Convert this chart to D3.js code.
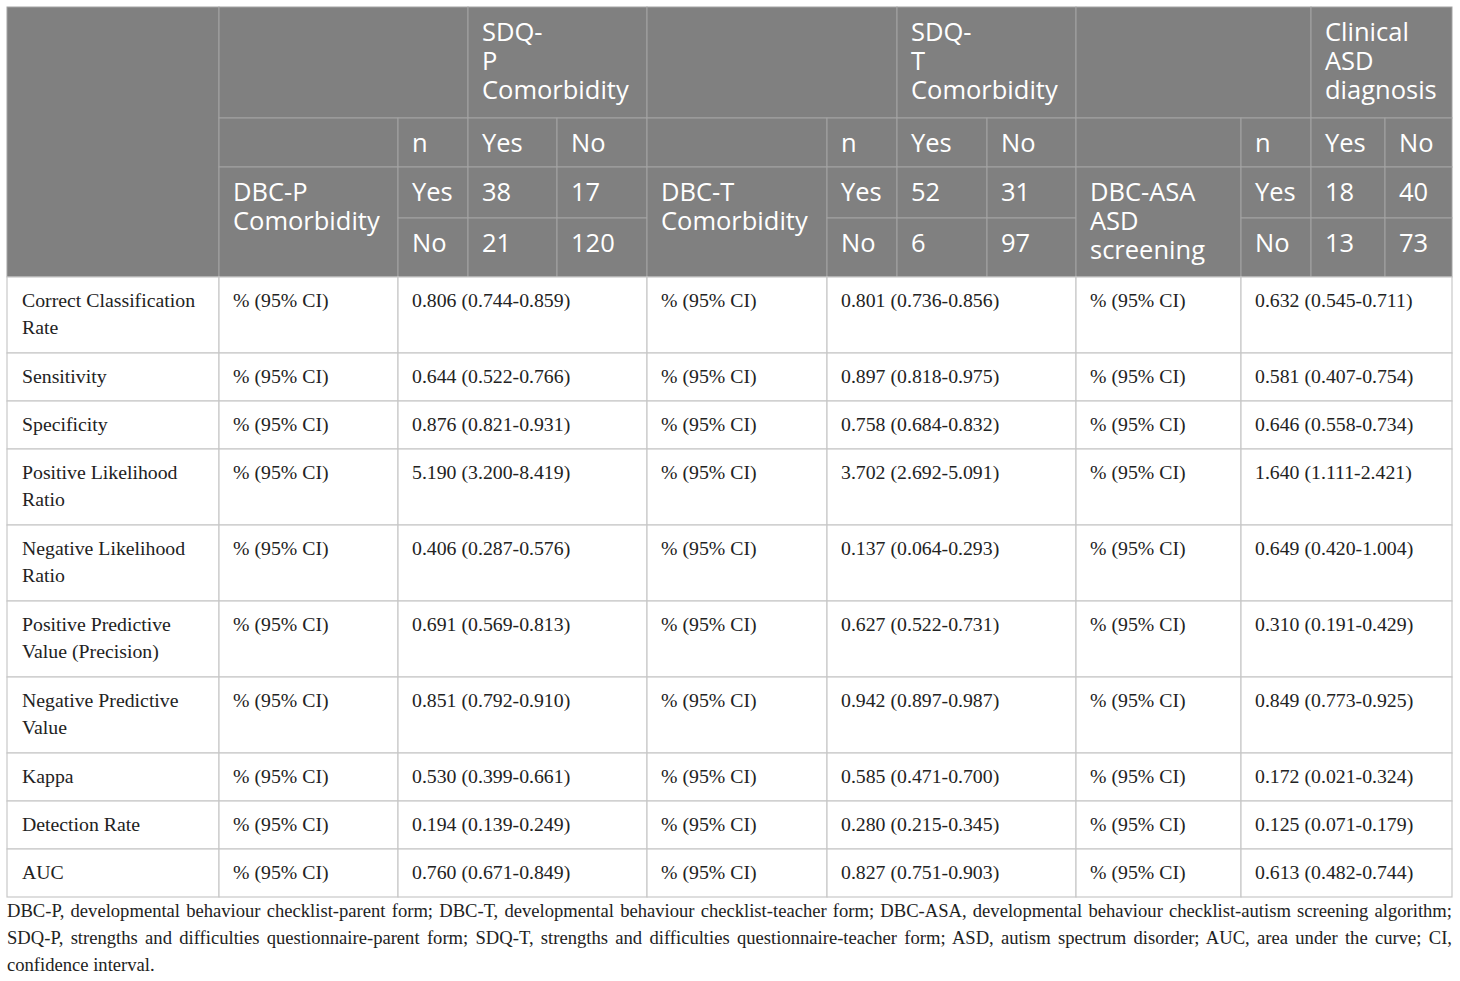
<!DOCTYPE html>
<html>
<head>
<meta charset="utf-8">
<script src="https://cdn.jsdelivr.net/npm/d3@7"></script>
<style>
  body { margin: 0; background: #fff; }
  svg { display: block; }
</style>
</head>
<body>
<div id="table"></div>
<script>
// ---- data ----
const metrics = [
  "Correct Classification Rate", "Sensitivity", "Specificity",
  "Positive Likelihood Ratio", "Negative Likelihood Ratio",
  "Positive Predictive Value (Precision)", "Negative Predictive Value",
  "Kappa", "Detection Rate", "AUC"
];
const unitLabel = "% (95% CI)";

// [estimate, lower, upper]
const dbcP = [
  [0.806, 0.744, 0.859], [0.644, 0.522, 0.766], [0.876, 0.821, 0.931],
  [5.190, 3.200, 8.419], [0.406, 0.287, 0.576], [0.691, 0.569, 0.813],
  [0.851, 0.792, 0.910], [0.530, 0.399, 0.661], [0.194, 0.139, 0.249],
  [0.760, 0.671, 0.849]
];
const dbcT = [
  [0.801, 0.736, 0.856], [0.897, 0.818, 0.975], [0.758, 0.684, 0.832],
  [3.702, 2.692, 5.091], [0.137, 0.064, 0.293], [0.627, 0.522, 0.731],
  [0.942, 0.897, 0.987], [0.585, 0.471, 0.700], [0.280, 0.215, 0.345],
  [0.827, 0.751, 0.903]
];
const dbcAsa = [
  [0.632, 0.545, 0.711], [0.581, 0.407, 0.754], [0.646, 0.558, 0.734],
  [1.640, 1.111, 2.421], [0.649, 0.420, 1.004], [0.310, 0.191, 0.429],
  [0.849, 0.773, 0.925], [0.172, 0.021, 0.324], [0.125, 0.071, 0.179],
  [0.613, 0.482, 0.744]
];

const refHeads  = [["SDQ-", "P", "Comorbidity"], ["SDQ-", "T", "Comorbidity"], ["Clinical", "ASD", "diagnosis"]];
const testHeads = [["DBC-P", "Comorbidity"], ["DBC-T", "Comorbidity"], ["DBC-ASA", "ASD", "screening"]];
const yesNo = ["Yes", "No"];
// [yes/yes, yes/no, no/yes, no/no]
const crossTab = [[38, 17, 21, 120], [52, 31, 6, 97], [18, 40, 13, 73]];

const footLines = [
  "DBC-P, developmental behaviour checklist-parent form; DBC-T, developmental behaviour checklist-teacher form; DBC-ASA, developmental behaviour checklist-autism screening algorithm;",
  "SDQ-P, strengths and difficulties questionnaire-parent form; SDQ-T, strengths and difficulties questionnaire-teacher form; ASD, autism spectrum disorder; AUC, area under the curve; CI,",
  "confidence interval."
];

// ---- layout ----
const W = 1460, H = 981;
const left = 7;
const colWidths = [212, 179, 70, 89, 90, 180, 70, 90, 89, 165, 70, 74, 67];
const colX = [left, ...d3.cumsum(colWidths).map(d => left + d)];
const headRowH = [111, 49, 51, 59];
const headY = [7, ...d3.cumsum(headRowH).map(d => 7 + d)];
const pad = 14;
const bodySize = 19.8;

const headFont = "'Open Sans', 'Noto Sans', sans-serif";
const bodyFont = "'Liberation Serif', 'Times New Roman', serif";

const svg = d3.select("#table").append("svg")
  .attr("width", W).attr("height", H);

const fmt = d3.format(".3f");
const ci = d => `${fmt(d[0])} (${fmt(d[1])}-${fmt(d[2])})`;

// header cells: c = first col, cs = colspan, r = first row, rs = rowspan
const headCells = [{c: 0, cs: 1, r: 0, rs: 4, lines: []}];
refHeads.forEach((ref, b) => {
  const c0 = 1 + b * 4;
  headCells.push({c: c0, cs: 2, r: 0, rs: 1, lines: []});
  headCells.push({c: c0 + 2, cs: 2, r: 0, rs: 1, lines: ref});
  headCells.push({c: c0, cs: 1, r: 1, rs: 1, lines: []});
  headCells.push({c: c0 + 1, cs: 1, r: 1, rs: 1, lines: ["n"]});
  headCells.push({c: c0 + 2, cs: 1, r: 1, rs: 1, lines: [yesNo[0]]});
  headCells.push({c: c0 + 3, cs: 1, r: 1, rs: 1, lines: [yesNo[1]]});
  headCells.push({c: c0, cs: 1, r: 2, rs: 2, lines: testHeads[b]});
  yesNo.forEach((yn, i) => {
    headCells.push({c: c0 + 1, cs: 1, r: 2 + i, rs: 1, lines: [yn]});
    headCells.push({c: c0 + 2, cs: 1, r: 2 + i, rs: 1, lines: [String(crossTab[b][i * 2])]});
    headCells.push({c: c0 + 3, cs: 1, r: 2 + i, rs: 1, lines: [String(crossTab[b][i * 2 + 1])]});
  });
});

const head = svg.append("g");
head.append("rect")
  .attr("x", colX[0]).attr("y", headY[0])
  .attr("width", colX[13] - colX[0]).attr("height", headY[4] - headY[0])
  .attr("fill", "#808080");

const hc = head.selectAll("g.hc").data(headCells).join("g").attr("class", "hc");
hc.append("rect")
  .attr("x", d => colX[d.c]).attr("y", d => headY[d.r])
  .attr("width", d => colX[d.c + d.cs] - colX[d.c])
  .attr("height", d => headY[d.r + d.rs] - headY[d.r])
  .attr("fill", "#808080")
  .attr("stroke", "#a3a3a3").attr("stroke-width", 1);
hc.append("text")
  .attr("font-family", headFont).attr("font-size", 25.5).attr("fill", "#fff")
  .selectAll("tspan").data(d => d.lines.map((t, i) => ({t, i, d}))).join("tspan")
    .attr("x", e => colX[e.d.c] + pad)
    .attr("y", e => headY[e.d.r] + 27 + e.i * 29)
    .attr("dominant-baseline", "middle")
    .text(e => e.t);

// ---- body ----
function wrap(text, maxW) {
  const probe = svg.append("text").attr("font-family", bodyFont).attr("font-size", bodySize);
  const words = text.split(" ");
  const lines = [];
  let cur = "";
  words.forEach(w => {
    const trial = cur ? cur + " " + w : w;
    probe.text(trial);
    if (probe.node().getComputedTextLength() > maxW && cur) {
      lines.push(cur);
      cur = w;
    } else cur = trial;
  });
  lines.push(cur);
  probe.remove();
  return lines;
}

const rows = metrics.map((m, i) => ({
  lines: wrap(m, 190),
  cells: [unitLabel, ci(dbcP[i]), unitLabel, ci(dbcT[i]), unitLabel, ci(dbcAsa[i])]
}));
let yAcc = headY[4];
rows.forEach(r => { r.y = yAcc; r.h = 20 + 28 * r.lines.length; yAcc += r.h; });

const bodyCols = [[0, 1], [1, 2], [2, 5], [5, 6], [6, 9], [9, 10], [10, 13]];

const body = svg.append("g");
const br = body.selectAll("g.row").data(rows).join("g").attr("class", "row");
br.selectAll("rect").data(r => bodyCols.map(bc => ({bc, r}))).join("rect")
  .attr("x", e => colX[e.bc[0]]).attr("y", e => e.r.y)
  .attr("width", e => colX[e.bc[1]] - colX[e.bc[0]]).attr("height", e => e.r.h)
  .attr("fill", "#fff").attr("stroke", "#c8c8c8").attr("stroke-width", 1.2);

br.append("text")
  .attr("font-family", bodyFont).attr("font-size", bodySize).attr("fill", "#222")
  .selectAll("tspan").data(r => r.lines.map((t, i) => ({t, i, r}))).join("tspan")
    .attr("x", colX[0] + 15)
    .attr("y", e => e.r.y + 25 + e.i * 27)
    .attr("dominant-baseline", "middle")
    .text(e => e.t);

br.selectAll("text.val").data(r => r.cells.map((t, i) => ({t, i, r}))).join("text")
  .attr("class", "val")
  .attr("font-family", bodyFont).attr("font-size", bodySize).attr("fill", "#222")
  .attr("x", e => colX[bodyCols[e.i + 1][0]] + 14)
  .attr("y", e => e.r.y + 25)
  .attr("dominant-baseline", "middle")
  .text(e => e.t);

// ---- footnote (justified) ----
const foot = svg.append("g");
const footW = colX[13] - colX[0];
footLines.forEach((line, i) => {
  const t = foot.append("text")
    .attr("font-family", bodyFont).attr("font-size", 18.6).attr("fill", "#222")
    .attr("x", colX[0]).attr("y", yAcc + 16 + i * 27)
    .attr("dominant-baseline", "middle")
    .text(line);
  if (i < footLines.length - 1) {
    const len = t.node().getComputedTextLength();
    const gaps = line.split(" ").length - 1;
    t.attr("word-spacing", Math.max(0, (footW - len) / gaps));
  }
});
</script>
</body>
</html>
